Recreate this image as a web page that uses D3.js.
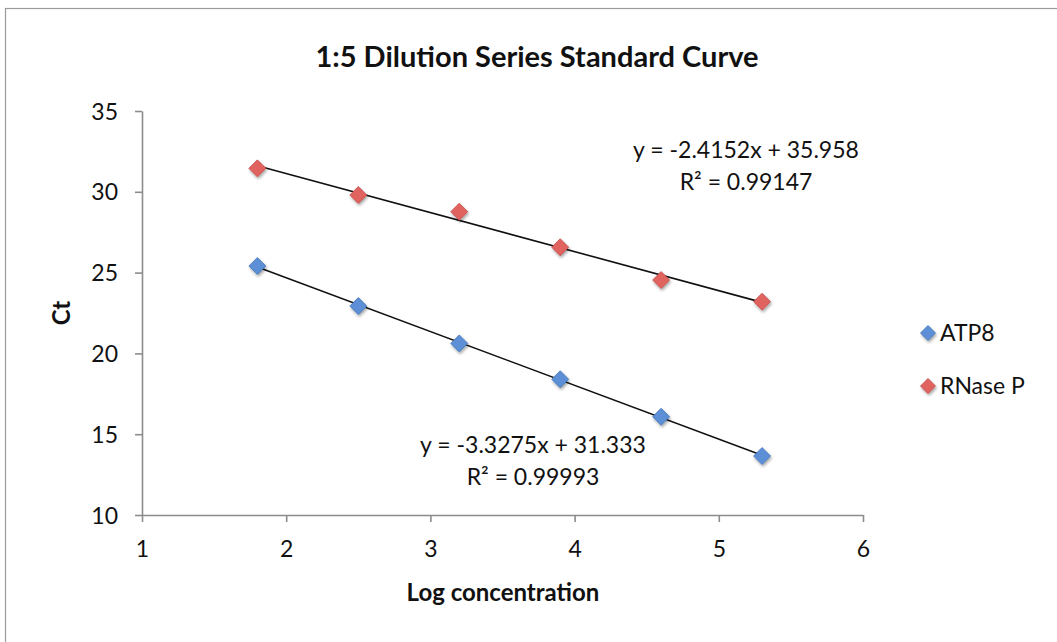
<!DOCTYPE html>
<html>
<head>
<meta charset="utf-8">
<script src="https://cdn.jsdelivr.net/npm/d3@7"></script>
<style>
  html, body { margin: 0; padding: 0; background: #fff; }
  svg { display: block; font-family: Lato, "Noto Sans", sans-serif; }
</style>
</head>
<body>
<svg id="chart" width="1057" height="642"></svg>
<script>
// Standard-curve data: Ct against log concentration
const logConc = [1.8, 2.5, 3.2, 3.9, 4.6, 5.3];
const atp8Ct = [25.41, 22.93, 20.62, 18.40, 16.08, 13.65];
const rnasePCt = [31.45, 29.80, 28.77, 26.57, 24.54, 23.20];

// Linear fits shown on the chart
const atp8Fit = { slope: -3.3275, intercept: 31.333, r2: "0.99993" };
const rnasePFit = { slope: -2.4152, intercept: 35.958, r2: "0.99147" };

const xTicks = [1, 2, 3, 4, 5, 6];
const yTicks = [10, 15, 20, 25, 30, 35];

const seriesNames = ["ATP8", "RNase P"];
const seriesColors = ["#5b8fd6", "#e06461"];
const seriesStrokes = ["#4473b5", "#c04a47"];

const svg = d3.select("#chart");

// Drop shadow used by the diamond markers
const defs = svg.append("defs");
const shadow = defs.append("filter").attr("id", "shadow")
  .attr("x", "-50%").attr("y", "-50%").attr("width", "200%").attr("height", "200%");
shadow.append("feDropShadow")
  .attr("dx", 1).attr("dy", 2).attr("stdDeviation", 1.4)
  .attr("flood-color", "#000").attr("flood-opacity", 0.35);

// Chart frame
svg.append("rect")
  .attr("x", 5.5).attr("y", 8.5)
  .attr("width", 1100).attr("height", 700)
  .attr("fill", "#fff").attr("stroke", "#9a9a9a").attr("stroke-width", 1.2);

const x = d3.scaleLinear().domain([1, 6]).range([142, 863]);
const y = d3.scaleLinear().domain([10, 35]).range([515, 111]);

// Axes
const axisColor = "#8c8c8c";
const gx = svg.append("g").attr("transform", `translate(0,${y(10)})`)
  .call(d3.axisBottom(x).tickValues(xTicks).tickFormat(d3.format("d"))
    .tickSizeInner(7).tickSizeOuter(0).tickPadding(19));
const gy = svg.append("g").attr("transform", `translate(${x(1)},0)`)
  .call(d3.axisLeft(y).tickValues(yTicks).tickFormat(d3.format("d"))
    .tickSizeInner(7).tickSizeOuter(0).tickPadding(17));
[gx, gy].forEach(g => {
  g.select(".domain").attr("stroke", axisColor).attr("stroke-width", 1.6);
  g.selectAll(".tick line").attr("stroke", axisColor).attr("stroke-width", 1.6);
  g.selectAll(".tick text").attr("fill", "#111").attr("font-size", 23)
    .attr("font-family", "Lato, sans-serif");
});
gy.selectAll(".tick text").attr("dy", "0.35em");

// Trendlines over the sampled range
const fits = [atp8Fit, rnasePFit];
const xMin = d3.min(logConc), xMax = d3.max(logConc);
svg.append("g").selectAll("line").data(fits).join("line")
  .attr("x1", x(xMin)).attr("y1", d => y(d.slope * xMin + d.intercept))
  .attr("x2", x(xMax)).attr("y2", d => y(d.slope * xMax + d.intercept))
  .attr("stroke", "#111").attr("stroke-width", 1.6);

// Diamond markers
const diamond = s => `M0,${-s}L${s},0L0,${s}L${-s},0Z`;
const series = [atp8Ct, rnasePCt];
series.forEach((vals, i) => {
  svg.append("g").selectAll("path")
    .data(vals.map((v, j) => [logConc[j], v]))
    .join("path")
    .attr("d", diamond(8.5))
    .attr("transform", d => `translate(${x(d[0])},${y(d[1])})`)
    .attr("fill", seriesColors[i])
    .attr("stroke", seriesStrokes[i]).attr("stroke-width", 0.8)
    .attr("filter", "url(#shadow)");
});

// Trendline equations
function fitLabel(fit, cx, cy) {
  const g = svg.append("g").attr("font-size", 23).attr("fill", "#111").attr("text-anchor", "middle");
  g.append("text").attr("x", cx).attr("y", cy)
    .text(`y = ${fit.slope}x + ${fit.intercept}`);
  g.append("text").attr("x", cx).attr("y", cy + 32)
    .text(`R² = ${fit.r2}`);
}
fitLabel(rnasePFit, 746, 158);
fitLabel(atp8Fit, 533, 453);

// Title and axis titles
svg.append("text").attr("x", 537).attr("y", 67)
  .attr("text-anchor", "middle").attr("font-weight", "bold").attr("font-size", 29)
  .attr("fill", "#111").text("1:5 Dilution Series Standard Curve");
svg.append("text").attr("x", 503).attr("y", 601)
  .attr("text-anchor", "middle").attr("font-weight", "bold").attr("font-size", 24)
  .attr("fill", "#111").text("Log concentration");
svg.append("text").attr("transform", "translate(70,313) rotate(-90)")
  .attr("text-anchor", "middle").attr("font-weight", "bold").attr("font-size", 24)
  .attr("fill", "#111").text("Ct");

// Legend
const legend = svg.append("g");
seriesNames.forEach((name, i) => {
  const ly = 333 + i * 53;
  legend.append("path").attr("d", diamond(7.5))
    .attr("transform", `translate(928,${ly})`)
    .attr("fill", seriesColors[i]).attr("stroke", seriesStrokes[i]).attr("stroke-width", 0.8)
    .attr("filter", "url(#shadow)");
  legend.append("text").attr("x", 940).attr("y", ly).attr("dy", "0.35em")
    .attr("font-size", 23).attr("fill", "#111").text(name);
});
</script>
</body>
</html>
